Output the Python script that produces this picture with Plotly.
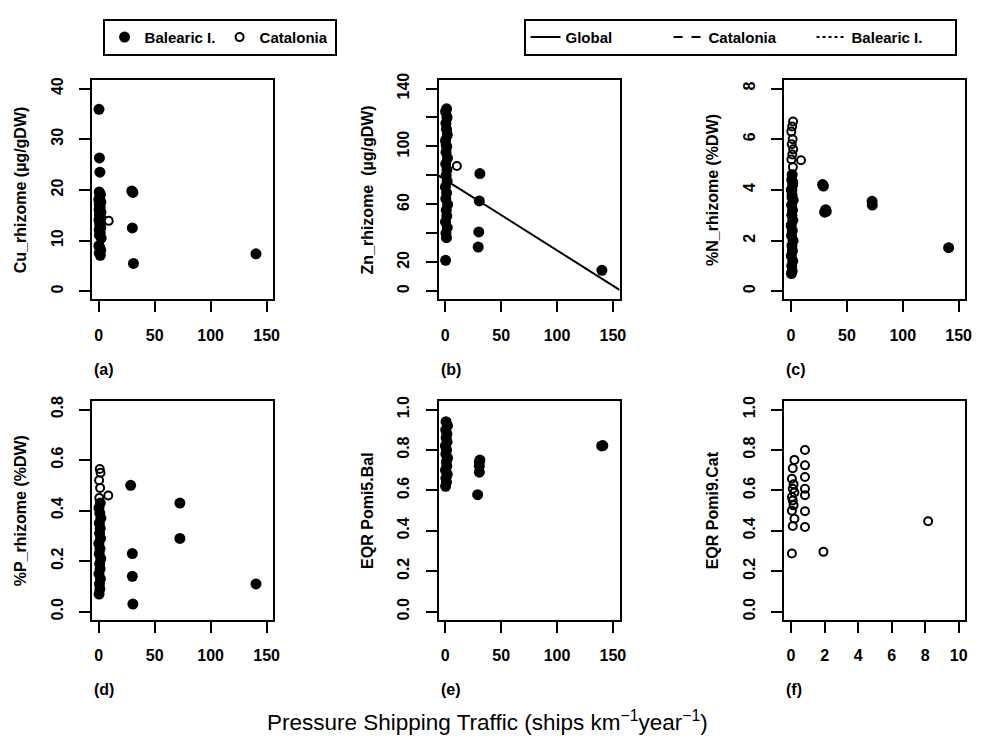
import plotly.graph_objects as go

W, H = 981, 742
FONT = "Liberation Sans, Arial, sans-serif"

# ---------------- data ----------------
# (a) Cu rhizome
cu_cat_x = [0.3, 0.8, 1.2, 8.9]
cu_cat_y = [15.2, 12.4, 17.1, 13.9]
cu_bal_x = [0.2, 0.6, 1.0, 0.4, 1.5, 0.8, 0.1, 1.9, 0.5, 1.2, 0.3, 2.0, 0.7, 1.6, 0.2, 1.1,
            0.9, 1.8, 0.4, 1.3, 0.6, 2.2, 0.1, 1.0, 1.7, 0.5, 1.4, 29.5, 30.5, 30.0, 31.0, 140.5]
cu_bal_y = [35.9, 26.3, 23.5, 19.6, 19.1, 18.6, 18.1, 17.6, 17.1, 16.6, 16.1, 15.6, 15.1, 14.6,
            14.1, 13.6, 13.1, 12.6, 12.1, 11.6, 11.1, 10.5, 9.0, 8.6, 8.1, 7.6, 7.1,
            19.8, 19.5, 12.5, 5.5, 7.4]

# (b) Zn rhizome
zn_cat_x = [0.4, 1.0, 1.6, 0.7, 1.3, 10.4]
zn_cat_y = [101.0, 106.0, 111.0, 116.0, 121.0, 86.5]
zn_bal_x = [0.3, 1.1, 0.6, 1.8, 0.2, 1.4, 0.9, 2.1, 0.5, 1.2, 0.1, 1.7, 0.8, 1.5, 0.4,
            2.0, 0.7, 1.3, 0.2, 1.9, 1.0, 0.6, 1.6, 0.3, 1.2, 31.0, 30.5, 30.0, 29.5, 140.2]
zn_bal_y = [21.4, 37.0, 40.0, 44.0, 48.0, 52.0, 56.0, 60.0, 64.0, 68.0, 72.0, 76.0, 80.0,
            84.0, 88.0, 92.0, 96.0, 100.0, 104.0, 108.0, 112.0, 116.0, 120.0, 124.0, 126.0,
            81.3, 62.4, 41.0, 30.6, 14.5]
zn_global_fit = [77.0, -0.487]   # intercept, slope

# (c) %N rhizome
n_cat_x = [0.4, 1.2, 2.0, 0.8, 1.6, 0.3, 1.1, 1.9, 0.6, 1.4, 0.2, 1.0, 1.8, 8.9]
n_cat_y = [3.7, 4.0, 4.3, 4.6, 4.9, 5.2, 5.4, 5.6, 5.8, 6.0, 6.3, 6.5, 6.7, 5.17]
n_bal_x = [0.3, 1.0, 0.6, 1.5, 0.2, 1.2, 0.8, 1.8, 0.4, 1.1, 0.1, 1.6, 0.7, 1.3, 0.5,
           1.9, 0.9, 0.2, 1.4, 0.6, 1.0,
           28.2, 29.0, 31.0, 30.0, 31.5, 72.5, 72.7, 141.0]
n_bal_y = [0.7, 0.8, 1.0, 1.2, 1.4, 1.6, 1.8, 2.0, 2.2, 2.4, 2.6, 2.8, 3.0, 3.2, 3.4,
           3.6, 3.8, 4.0, 4.2, 4.4, 4.6,
           4.21, 4.15, 3.22, 3.12, 3.15, 3.55, 3.40, 1.72]

# (d) %P rhizome
p_cat_x = [0.5, 1.2, 0.3, 1.6, 0.9, 8.5]
p_cat_y = [0.45, 0.49, 0.52, 0.55, 0.565, 0.46]
p_bal_x = [0.3, 1.0, 0.6, 1.5, 0.2, 1.2, 0.8, 1.8, 0.4, 1.1, 0.1, 1.6, 0.7, 1.3, 0.5,
           1.9, 0.9, 0.2, 1.4,
           28.5, 30.0, 30.0, 30.5, 72.5, 72.5, 140.5]
p_bal_y = [0.07, 0.09, 0.11, 0.13, 0.15, 0.17, 0.19, 0.21, 0.23, 0.25, 0.27, 0.29, 0.31,
           0.33, 0.35, 0.37, 0.39, 0.41, 0.43,
           0.50, 0.23, 0.14, 0.03, 0.43, 0.29, 0.11]

# (e) EQR POMI5 Balearic
e_bal_x = [0.3, 1.1, 0.6, 1.8, 0.2, 1.4, 0.9, 2.1, 0.5, 1.2, 0.1, 1.7, 0.8, 1.5, 0.4,
           2.0, 0.7, 29.0, 30.5, 30.5, 30.5, 31.0, 141.0, 140.0]
e_bal_y = [0.62, 0.64, 0.66, 0.68, 0.70, 0.72, 0.74, 0.76, 0.78, 0.80, 0.82, 0.84, 0.86,
           0.88, 0.90, 0.92, 0.94, 0.579, 0.69, 0.72, 0.74, 0.75, 0.822, 0.82]

# (f) EQR POMI9 Catalonia
f_cat_x = [0.05, 0.1, 0.2, 0.05, 0.15, 0.1, 0.05, 0.2, 0.1, 0.15, 0.05, 0.1, 0.2,
           0.83, 0.83, 0.83, 0.83, 0.83, 0.83, 0.83, 1.93, 8.18]
f_cat_y = [0.288, 0.424, 0.46, 0.50, 0.526, 0.55, 0.567, 0.59, 0.608, 0.63, 0.658, 0.71,
           0.751, 0.80, 0.724, 0.666, 0.608, 0.576, 0.497, 0.419, 0.296, 0.447]

y_titles = ["Cu_rhizome (µg/gDW)", "Zn_rhizome  (µg/gDW)", "%N_rhizome (%DW)",
            "%P_rhizome (%DW)", "EQR Pomi5.Bal", "EQR Pomi9.Cat"]
panel_labels = ["(a)", "(b)", "(c)", "(d)", "(e)", "(f)"]
x_ticks_main = [0, 50, 100, 150]
x_ticks_f = [0, 2, 4, 6, 8, 10]
# labelled ticks, plus unlabelled ticks (R drops overlapping labels)
y_ticks = [
    ([0, 10, 20, 30, 40], []),
    ([0, 20, 60, 100, 140], [40, 80, 120]),
    ([0, 2, 4, 6, 8], []),
    ([0, 0.2, 0.4, 0.6, 0.8], []),
    ([0, 0.2, 0.4, 0.6, 0.8, 1.0], []),
    ([0, 0.2, 0.4, 0.6, 0.8, 1.0], []),
]
y_lims = [(0, 40), (0, 140), (0, 8), (0, 0.8), (0, 1), (0, 1)]
x_lims = [(0, 150)] * 5 + [(0, 10)]


def ext(lim):
    d = (lim[1] - lim[0]) * 0.04
    return [lim[0] - d, lim[1] + d]


def fmt(v, dec):
    return f"{v:.{dec}f}"


# ---------------- layout geometry ----------------
col_px = [(92.7, 275.3), (441.7, 624.0), (790.0, 972.3)]
row_px = [(73.3, 295.0), (398.3, 619.3)]

fig = go.Figure()

filled = dict(symbol="circle", size=11, color="black", line=dict(color="black", width=0))
opened = dict(symbol="circle-open", size=8, color="black", line=dict(color="black", width=2))

panels = [
    (cu_cat_x, cu_cat_y, cu_bal_x, cu_bal_y),
    (zn_cat_x, zn_cat_y, zn_bal_x, zn_bal_y),
    (n_cat_x, n_cat_y, n_bal_x, n_bal_y),
    (p_cat_x, p_cat_y, p_bal_x, p_bal_y),
    (None, None, e_bal_x, e_bal_y),
    (f_cat_x, f_cat_y, None, None),
]

for i, (cx, cy, bx, by) in enumerate(panels):
    k = "" if i == 0 else str(i + 1)
    xa, ya = "x" + k, "y" + k
    if i == 1:
        xr = ext(x_lims[i])
        b0, b1 = zn_global_fit
        fig.add_trace(go.Scatter(x=xr, y=[b0 + b1 * xr[0], b0 + b1 * xr[1]], mode="lines",
                                 line=dict(color="black", width=2), name="Global",
                                 legend="legend2", showlegend=True, xaxis=xa, yaxis=ya,
                                 hoverinfo="skip"))
    if cx is not None:
        fig.add_trace(go.Scatter(x=cx, y=cy, mode="markers", marker=opened, name="Catalonia",
                                 legend="legend", showlegend=False, xaxis=xa, yaxis=ya))
    if bx is not None:
        fig.add_trace(go.Scatter(x=bx, y=by, mode="markers", marker=filled, name="Balearic I.",
                                 legend="legend", showlegend=False, xaxis=xa, yaxis=ya))

# legend entries
fig.add_trace(go.Scatter(x=[None], y=[None], mode="markers", marker=filled, name="Balearic I.",
                         legend="legend", showlegend=True))
fig.add_trace(go.Scatter(x=[None], y=[None], mode="markers", marker=opened, name="Catalonia",
                         legend="legend", showlegend=True))
fig.add_trace(go.Scatter(x=[None], y=[None], mode="lines", line=dict(color="black", width=2, dash="dash"),
                         name="Catalonia", legend="legend2", showlegend=True))
fig.add_trace(go.Scatter(x=[None], y=[None], mode="lines", line=dict(color="black", width=2, dash="dot"),
                         name="Balearic I.", legend="legend2", showlegend=True))

tick_font = dict(family=FONT, size=16, color="black", weight="bold")
legend_font = dict(family=FONT, size=15, color="black", weight="bold")
layout = dict(
    width=W, height=H, margin=dict(l=0, r=0, t=0, b=0),
    paper_bgcolor="white", plot_bgcolor="white",
    font=dict(family=FONT, size=16, color="black"),
    showlegend=True,
)
annotations = []
for i in range(6):
    r, c = divmod(i, 3)
    k = "" if i == 0 else str(i + 1)
    x0, x1 = col_px[c]
    y0, y1 = row_px[r]
    xt = x_ticks_main if i < 5 else x_ticks_f
    common = dict(showgrid=False, zeroline=False, showline=True, linecolor="black", linewidth=2,
                  mirror=True, ticks="outside", ticklen=11, tickwidth=2, tickcolor="black",
                  tickfont=tick_font)
    layout["xaxis" + k] = dict(domain=[x0 / W, x1 / W], range=ext(x_lims[i]), tickmode="array",
                               tickvals=xt, ticktext=[str(v) for v in xt], anchor="y" + k,
                               ticklabelstandoff=9, **common)
    tv, minor_v = y_ticks[i]
    dec = 1 if y_lims[i][1] <= 1 else 0
    ydict = dict(domain=[1 - y1 / H, 1 - y0 / H], range=ext(y_lims[i]), tickmode="array",
                 tickvals=tv, ticktext=[fmt(v, dec) for v in tv], anchor="x" + k, tickangle=-90,
                 ticklabelstandoff=10,
                 title=dict(text=y_titles[i], standoff=18,
                            font=dict(family=FONT, size=16, color="black", weight="bold")),
                 **common)
    if minor_v:
        ydict["minor"] = dict(tickmode="array", tickvals=minor_v, ticks="outside", ticklen=11,
                              tickwidth=2, tickcolor="black", showgrid=False)
    layout["yaxis" + k] = ydict
    annotations.append(dict(text=panel_labels[i], xref="paper", yref="paper", x=x0 / W,
                            y=1 - (y1 + 71) / H, xanchor="left", yanchor="middle",
                            showarrow=False, font=tick_font))

annotations.append(dict(text="Pressure Shipping Traffic (ships km<sup>−1</sup>year<sup>−1</sup>)",
                        xref="paper", yref="paper", x=0.5, y=1 - 722 / H, xanchor="center",
                        yanchor="middle", showarrow=False,
                        font=dict(family=FONT, size=22.5, color="black")))
layout["annotations"] = annotations

layout["legend"] = dict(orientation="h", x=103.3 / W, y=1 - 11 / H, xanchor="left", yanchor="top",
                        bordercolor="black", borderwidth=2, bgcolor="white",
                        font=legend_font, entrywidth=70, entrywidthmode="pixels")
layout["legend2"] = dict(orientation="h", x=527.3 / W, y=1 - 11 / H, xanchor="left", yanchor="top",
                         bordercolor="black", borderwidth=2, bgcolor="white",
                         font=legend_font, entrywidth=98, entrywidthmode="pixels")

fig.update_layout(**layout)
fig.write_html("out.html")
